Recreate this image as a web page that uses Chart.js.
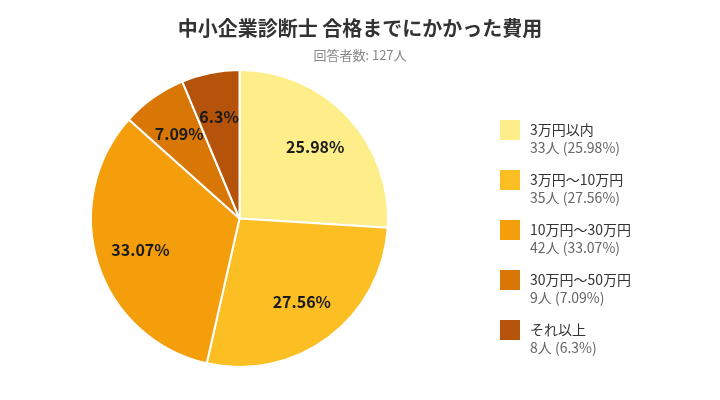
<!DOCTYPE html>
<html>
<head>
<meta charset="utf-8">
<script src="https://cdn.jsdelivr.net/npm/chart.js@4"></script>
<style>
  html, body { margin: 0; padding: 0; background: #fff; }
  #wrap { width: 720px; height: 400px; position: relative; }
</style>
</head>
<body>
<div id="wrap"><canvas id="chart" width="720" height="400"></canvas></div>
<script>
// データ
const categories = ["3万円以内", "3万円～10万円", "10万円～30万円", "30万円～50万円", "それ以上"];
const counts = [33, 35, 42, 9, 8];
const percents = [25.98, 27.56, 33.07, 7.09, 6.3];
const colors = ["#FDEE8A", "#FBBF24", "#F49E0C", "#D97706", "#B45309"];

const titleText = "中小企業診断士 合格までにかかった費用";
const subtitleText = "回答者数: 127人";

const FONT = "'Noto Sans CJK JP', 'Noto Sans', sans-serif";

// タイトル・凡例・ラベルを描く
const drawExtras = {
  id: "drawExtras",
  afterDraw(chart) {
    const ctx = chart.ctx;
    ctx.save();

    // タイトル
    ctx.textAlign = "center";
    ctx.textBaseline = "middle";
    ctx.fillStyle = "#333";
    ctx.font = "bold 20px " + FONT;
    ctx.fillText(titleText, 360, 28);
    ctx.fillStyle = "#888";
    ctx.font = "13px " + FONT;
    ctx.fillText(subtitleText, 360, 55);

    // スライスのラベル
    const meta = chart.getDatasetMeta(0);
    ctx.font = "bold 16px " + FONT;
    ctx.fillStyle = "#1a1a1a";
    meta.data.forEach(function (arc, i) {
      const mid = (arc.startAngle + arc.endAngle) / 2;
      const r = arc.outerRadius * 0.7;
      ctx.fillText(percents[i] + "%", arc.x + Math.cos(mid) * r, arc.y + Math.sin(mid) * r);
    });

    // 凡例
    ctx.textAlign = "left";
    for (let i = 0; i < categories.length; i++) {
      const y = 120 + i * 50;
      ctx.fillStyle = colors[i];
      ctx.fillRect(500, y, 20, 20);
      ctx.font = "14px " + FONT;
      ctx.fillStyle = "#333";
      ctx.fillText(categories[i], 530, y + 10);
      ctx.fillStyle = "#666";
      ctx.fillText(counts[i] + "人 (" + percents[i] + "%)", 530, y + 28);
    }
    ctx.restore();
  }
};

new Chart(document.getElementById("chart"), {
  type: "pie",
  data: {
    labels: categories,
    datasets: [{
      data: counts,
      backgroundColor: colors,
      borderColor: "#fff",
      borderWidth: 2
    }]
  },
  options: {
    responsive: false,
    animation: false,
    devicePixelRatio: 1,
    layout: { padding: { left: 89, right: 330, top: 69, bottom: 32 } },
    plugins: {
      legend: { display: false },
      tooltip: { enabled: false }
    }
  },
  plugins: [drawExtras]
});
</script>
</body>
</html>
